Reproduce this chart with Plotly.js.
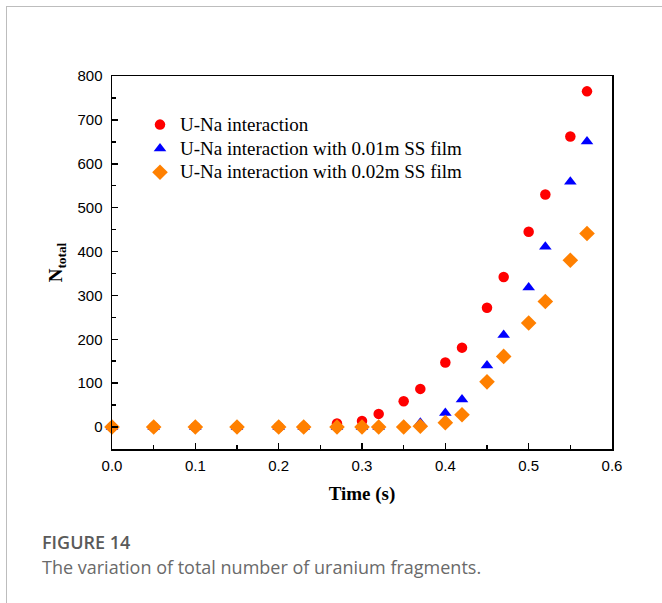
<!DOCTYPE html>
<html>
<head>
<meta charset="utf-8">
<script src="https://cdn.plot.ly/plotly-3.0.1.min.js"></script>
<style>
html,body{margin:0;padding:0;background:#fff;}
#wrap{position:relative;width:662px;height:603px;}
#chart{width:662px;height:603px;}
#frame{position:absolute;left:6px;top:6px;width:656px;height:597px;border-top:1.5px solid #bdbdbd;border-left:1.5px solid #bdbdbd;pointer-events:none;}
</style>
</head>
<body>
<div id="wrap"><div id="chart"></div><div id="frame"></div></div>
<script>
const time = [0, 0.05, 0.1, 0.15, 0.2, 0.23, 0.27, 0.3, 0.32, 0.35, 0.37, 0.4, 0.42, 0.45, 0.47, 0.5, 0.52, 0.55, 0.57];
const unaOnly = [0, 0, 0, 0, 0, 0, 8, 14, 30, 59, 87, 147, 181, 272, 342, 445, 530, 662, 765];
const film001 = [0, 0, 0, 0, 0, 0, 0, 0, 0, 4, 10, 32, 63, 140, 210, 318, 411, 559, 651];
const film002 = [0, 0, 0, 0, 0, 0, 0, 0, 0, 0, 2, 10, 28, 103, 161, 237, 286, 380, 441];
const seriesNames = ["U-Na interaction", "U-Na interaction with 0.01m SS film", "U-Na interaction with 0.02m SS film"];
const xTicks = [0, 0.1, 0.2, 0.3, 0.4, 0.5, 0.6];
const xTickText = ["0.0", "0.1", "0.2", "0.3", "0.4", "0.5", "0.6"];
const yTicks = [0, 100, 200, 300, 400, 500, 600, 700, 800];

const big = s => '<span style="font-size:19px">' + s + '</span>';

const traces = [
  {x: time, y: unaOnly, name: big(seriesNames[0]), type: 'scatter', mode: 'markers', cliponaxis: false,
   marker: {symbol: 'circle', size: 10.5, color: '#ff0000'}},
  {x: time, y: film001, name: big(seriesNames[1]), type: 'scatter', mode: 'markers', cliponaxis: false,
   marker: {symbol: 'triangle-up', size: 11, color: '#0000ff'}},
  {x: time, y: film002, name: big(seriesNames[2]), type: 'scatter', mode: 'markers', cliponaxis: false,
   marker: {symbol: 'diamond', size: 12, color: '#ff8000'}}
];

const serif = 'Liberation Serif, Times New Roman, serif';
const sans = 'Liberation Sans, Arial, sans-serif';
const capFont = 'Open Sans, Noto Sans, sans-serif';

const layout = {
  width: 662, height: 603,
  margin: {l: 112, r: 50, t: 76, b: 154},
  paper_bgcolor: '#ffffff', plot_bgcolor: '#ffffff',
  showlegend: true,
  legend: {x: 0.056, y: 0.915, xanchor: 'left', yanchor: 'top', bgcolor: 'rgba(0,0,0,0)',
    font: {family: serif, size: 16, color: '#000'}, tracegroupgap: 0},
  xaxis: {
    range: [0, 0.6], tickvals: xTicks, ticktext: xTickText,
    ticks: 'inside', ticklen: 6, tickwidth: 1.5, tickcolor: '#000',
    minor: {dtick: 0.05, ticks: 'inside', ticklen: 4, tickwidth: 1.5, tickcolor: '#000', showgrid: false},
    showline: true, linecolor: '#000', linewidth: 1.5, mirror: true,
    showgrid: false, zeroline: false, ticklabelstandoff: 2,
    tickfont: {family: sans, size: 15, color: '#000'},
    title: {text: '<b>Time (s)</b>', standoff: 14,
      font: {family: serif, size: 19, color: '#000'}}
  },
  yaxis: {
    range: [-50, 800], tickvals: yTicks,
    ticks: 'inside', ticklen: 6, tickwidth: 1.5, tickcolor: '#000',
    minor: {dtick: 50, ticks: 'inside', ticklen: 4, tickwidth: 1.5, tickcolor: '#000', showgrid: false},
    showline: true, linecolor: '#000', linewidth: 1.5, mirror: true,
    showgrid: false, zeroline: false, ticklabelstandoff: 5,
    tickfont: {family: sans, size: 15, color: '#000'},
    title: {text: '<b>N<sub>total</sub></b>', standoff: 10,
      font: {family: serif, size: 19, color: '#000'}}
  },
  annotations: [
    {xref: 'paper', yref: 'paper', x: -0.144, y: -0.249, xanchor: 'left', yanchor: 'middle', showarrow: false,
     text: 'FIGURE 14', font: {family: capFont, size: 18, weight: 600, color: '#5a5a5a'}},
    {xref: 'paper', yref: 'paper', x: -0.144, y: -0.316, xanchor: 'left', yanchor: 'middle', showarrow: false,
     text: 'The variation of total number of uranium fragments.', font: {family: capFont, size: 18, color: '#6a6a6a'}}
  ]
};

Plotly.newPlot('chart', traces, layout, {displayModeBar: false, staticPlot: true});
</script>
</body>
</html>
